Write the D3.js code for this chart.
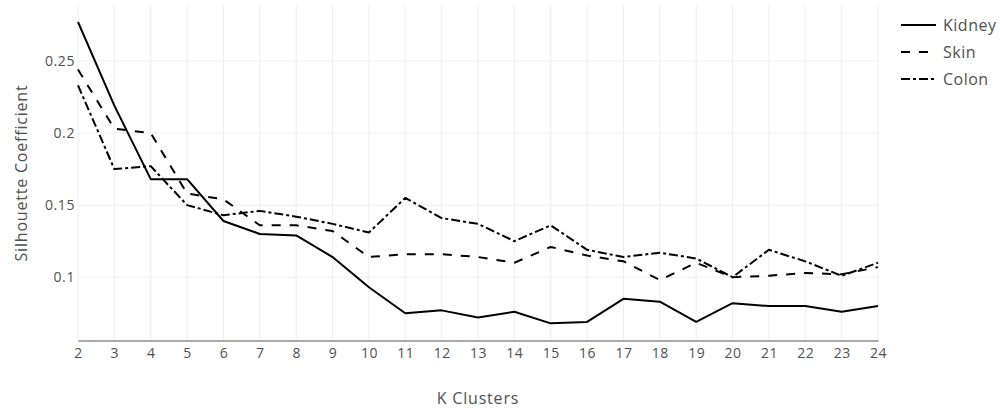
<!DOCTYPE html>
<html>
<head>
<meta charset="utf-8">
<script src="https://cdn.jsdelivr.net/npm/d3@7"></script>
<style>
  html, body { margin: 0; padding: 0; background: #fff; }
  svg { display: block; font-family: "Open Sans", sans-serif; }
</style>
</head>
<body>
<svg id="chart" width="1000" height="408"></svg>
<script>
// K values evaluated
const kValues = [2, 3, 4, 5, 6, 7, 8, 9, 10, 11, 12, 13, 14, 15, 16, 17, 18, 19, 20, 21, 22, 23, 24];

// Silhouette coefficient per tissue
const kidney = [0.277, 0.219, 0.168, 0.168, 0.139, 0.130, 0.129, 0.114, 0.093, 0.075, 0.077, 0.072, 0.076, 0.068, 0.069, 0.085, 0.083, 0.069, 0.082, 0.080, 0.080, 0.076, 0.080];
const skin   = [0.244, 0.203, 0.200, 0.158, 0.154, 0.136, 0.136, 0.132, 0.114, 0.116, 0.116, 0.114, 0.110, 0.121, 0.115, 0.111, 0.098, 0.110, 0.100, 0.101, 0.103, 0.102, 0.107];
const colon  = [0.233, 0.175, 0.177, 0.150, 0.143, 0.146, 0.142, 0.137, 0.131, 0.155, 0.141, 0.137, 0.125, 0.136, 0.119, 0.114, 0.117, 0.113, 0.100, 0.119, 0.111, 0.101, 0.110];

const yTicks = [0.1, 0.15, 0.2, 0.25];
const yTickLabels = ["0.1", "0.15", "0.2", "0.25"];

const seriesNames = ["Kidney", "Skin", "Colon"];
const seriesValues = [kidney, skin, colon];
const seriesDash = ["", "9,9", "9,3,3,3"];

const textColor = "#505050";
const svg = d3.select("#chart");
const plotLeft = 78, plotRight = 878, plotTop = 5, plotBottom = 340.5;

const x = d3.scaleLinear().domain([2, 24]).range([plotLeft, plotRight]);
const y = d3.scaleLinear().domain([0.0561, 0.2888]).range([plotBottom, plotTop]);

// grid lines
const grid = svg.append("g");
grid.selectAll("line.v").data(kValues).join("line").attr("class", "v")
  .attr("x1", d => x(d)).attr("x2", d => x(d))
  .attr("y1", plotTop).attr("y2", plotBottom)
  .attr("stroke", "#eeeeee").attr("stroke-width", 1);
grid.selectAll("line.h").data(yTicks).join("line").attr("class", "h")
  .attr("x1", plotLeft).attr("x2", plotRight)
  .attr("y1", d => y(d)).attr("y2", d => y(d))
  .attr("stroke", "#eeeeee").attr("stroke-width", 1);

// x axis
const xAxis = svg.append("g")
  .attr("transform", `translate(0,${plotBottom})`)
  .call(d3.axisBottom(x).tickValues(kValues).tickFormat(d3.format("d")).tickSize(0).tickPadding(8));
xAxis.select(".domain").attr("stroke", "#555").attr("stroke-width", 1.2);
xAxis.selectAll("text").attr("fill", textColor)
  .style("font-size", "14px").style("font-family", "Open Sans").style("letter-spacing", "0.5px");

// y axis
const yAxis = svg.append("g")
  .attr("transform", `translate(${plotLeft},0)`)
  .call(d3.axisLeft(y).tickValues(yTicks).tickFormat((d, i) => yTickLabels[i]).tickSize(0).tickPadding(3));
yAxis.select(".domain").remove();
yAxis.selectAll("text").attr("fill", textColor)
  .style("font-size", "14px").style("font-family", "Open Sans").style("letter-spacing", "0.6px");

// axis titles
svg.append("text")
  .attr("x", (plotLeft + plotRight) / 2).attr("y", 403.5)
  .attr("text-anchor", "middle").attr("fill", textColor)
  .style("font-size", "16px").style("letter-spacing", "0.8px").text("K Clusters");
svg.append("text")
  .attr("transform", "translate(27,173) rotate(-90)")
  .attr("text-anchor", "middle").attr("fill", textColor)
  .style("font-size", "16px").style("letter-spacing", "0.8px").text("Silhouette Coefficient");

// lines
const line = d3.line().x((d, i) => x(kValues[i])).y(d => y(d));
svg.append("clipPath").attr("id", "plotclip").append("rect")
  .attr("x", plotLeft - 2).attr("y", plotTop).attr("width", plotRight - plotLeft + 4).attr("height", plotBottom - plotTop);
svg.append("g").attr("clip-path", "url(#plotclip)")
  .selectAll("path").data(seriesValues).join("path")
  .attr("d", d => line(d))
  .attr("fill", "none").attr("stroke", "#000").attr("stroke-width", 2)
  .attr("stroke-linejoin", "round")
  .attr("stroke-dasharray", (d, i) => seriesDash[i] || null);

// legend
const legend = svg.append("g").attr("transform", "translate(901,25)");
const items = legend.selectAll("g").data(seriesNames).join("g")
  .attr("transform", (d, i) => `translate(0,${i * 27})`);
items.append("line")
  .attr("x1", 0).attr("x2", 35).attr("y1", 0).attr("y2", 0)
  .attr("stroke", "#000").attr("stroke-width", 2)
  .attr("stroke-dasharray", (d, i) => seriesDash[i] || null);
items.append("text")
  .attr("x", 42).attr("y", 0).attr("dy", "0.35em")
  .attr("fill", textColor).style("font-size", "16px").style("letter-spacing", "0.5px").text(d => d);
</script>
</body>
</html>
